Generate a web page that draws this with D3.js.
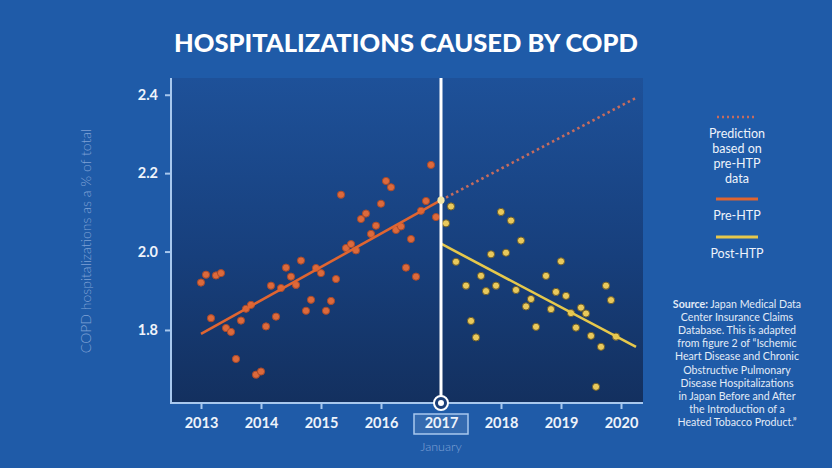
<!DOCTYPE html>
<html>
<head>
<meta charset="utf-8">
<script src="https://cdn.jsdelivr.net/npm/d3@7"></script>
<style>
  html, body { margin: 0; padding: 0; background: #1f5ba8; }
  svg { display: block; }
</style>
</head>
<body>
<svg id="chart" width="832" height="468"></svg>
<script>
// ---------- DATA ----------
const title = "HOSPITALIZATIONS CAUSED BY COPD";
const yAxisLabel = "COPD hospitalizations as a % of total";
const xTickYears = [2013, 2014, 2015, 2016, 2017, 2018, 2019, 2020];
const yTickValues = [1.8, 2.0, 2.2, 2.4];
const interventionYear = 2017;
const interventionLabel = "January";

// Monthly values, Jan 2013 .. Dec 2016
const preStartYear = 2013;
const preValues = [
  1.921, 1.941, 1.830, 1.939, 1.945, 1.805, 1.795, 1.726, 1.824, 1.854, 1.864, 1.686,
  1.694, 1.809, 1.913, 1.834, 1.907, 1.959, 1.936, 1.915, 1.977, 1.849, 1.877, 1.958,
  1.945, 1.849, 1.874, 1.930, 2.145, 2.009, 2.019, 2.003, 2.083, 2.097, 2.045, 2.066,
  2.122, 2.180, 2.164, 2.055, 2.064, 1.959, 2.032, 1.936, 2.104, 2.129, 2.221, 2.088
];
// Monthly values, Feb 2017 .. Dec 2019 (null = not visible)
const postStartYear = 2017 + 1 / 12;
const postValues = [
  2.072, 2.115, 1.974, null, 1.913, 1.823, 1.781, 1.938, 1.899, 1.993, 1.913,
  2.101, 1.997, 2.079, 1.902, 2.028, 1.860, 1.879, 1.808, null, 1.938, 1.853, 1.897,
  1.975, 1.887, 1.843, 1.806, 1.857, 1.842, 1.785, 1.655, 1.757, 1.913, 1.876, 1.783
];
// Trend lines [year, value]
const preTrend = [[2013, 1.790], [2017, 2.131]];
const predictionTrend = [[2017, 2.131], [2020.25, 2.392]];
const postTrend = [[2017, 2.020], [2020.25, 1.757]];

const legendItems = [
  { key: "prediction", lines: ["Prediction", "based on", "pre-HTP", "data"] },
  { key: "pre", lines: ["Pre-HTP"] },
  { key: "post", lines: ["Post-HTP"] }
];
const sourceLines = [
  ["Source:", " Japan Medical Data"],
  ["", "Center Insurance Claims"],
  ["", "Database. This is adapted"],
  ["", "from figure 2 of \u201cIschemic"],
  ["", "Heart Disease and Chronic"],
  ["", "Obstructive Pulmonary"],
  ["", "Disease Hospitalizations"],
  ["", "in Japan Before and After"],
  ["", "the Introduction of a"],
  ["", "Heated Tobacco Product.\u201d"]
];

// ---------- STYLE ----------
const C = {
  bg: "#1f5ba8",
  axis: "#a8c8ee",
  text: "#eef3fb",
  pre: "#df6531",
  preDot: "#dc6a3c",
  post: "#e6c84c",
  postDot: "#e9c95c",
  pred: "#c66c5e",
  faint: "#7fa2d6"
};
const FONT = "Lato, 'Open Sans', sans-serif";

const svg = d3.select("#chart");
const W = 832, H = 468;
const plot = { left: 171, right: 643, top: 78, bottom: 403 };

svg.append("rect").attr("width", W).attr("height", H).attr("fill", C.bg);

const defs = svg.append("defs");
const grad = defs.append("linearGradient").attr("id", "plotGrad")
  .attr("x1", 0).attr("y1", 0).attr("x2", 0).attr("y2", 1);
grad.append("stop").attr("offset", "0%").attr("stop-color", "#1e5199");
grad.append("stop").attr("offset", "55%").attr("stop-color", "#173f7c");
grad.append("stop").attr("offset", "100%").attr("stop-color", "#13305f");

// scales
const x = d3.scaleLinear().domain([2012.5, 2020.3667]).range([plot.left, plot.right]);
const y = d3.scaleLinear().domain([1.6137, 2.4427]).range([plot.bottom, plot.top]);

// plot background
svg.append("rect")
  .attr("x", plot.left).attr("y", plot.top)
  .attr("width", plot.right - plot.left).attr("height", plot.bottom - plot.top)
  .attr("fill", "url(#plotGrad)");

// title
svg.append("text")
  .attr("x", 406).attr("y", 52)
  .attr("text-anchor", "middle")
  .attr("font-family", FONT).attr("font-weight", 900).attr("font-size", 25.5)
  .attr("fill", "#ffffff")
  .text(title);

// y axis label
svg.append("text")
  .attr("transform", "translate(91,241) rotate(-90)")
  .attr("text-anchor", "middle")
  .attr("font-family", FONT).attr("font-weight", 300).attr("font-size", 14)
  .attr("fill", C.faint)
  .text(yAxisLabel);

// axes
const yAxis = d3.axisLeft(y).tickValues(yTickValues).tickFormat(d3.format(".1f"))
  .tickSize(6).tickPadding(7);
const gy = svg.append("g").attr("transform", `translate(${plot.left},0)`).call(yAxis);
gy.select(".domain").remove();
gy.selectAll(".tick line").attr("stroke", C.axis).attr("stroke-width", 2);
gy.selectAll(".tick text").attr("fill", C.text).attr("font-family", FONT)
  .attr("font-weight", 700).attr("font-size", 14.5);

const xAxis = d3.axisBottom(x).tickValues(xTickYears).tickFormat(d3.format("d"))
  .tickSize(6).tickPadding(9);
const gx = svg.append("g").attr("transform", `translate(0,${plot.bottom})`).call(xAxis);
gx.select(".domain").remove();
gx.selectAll(".tick line").attr("stroke", C.axis).attr("stroke-width", 2);
gx.selectAll(".tick text").attr("fill", C.text).attr("font-family", FONT)
  .attr("font-weight", 700).attr("font-size", 14.5);

// axis lines
svg.append("line").attr("x1", plot.left).attr("x2", plot.left)
  .attr("y1", plot.top).attr("y2", plot.bottom + 1)
  .attr("stroke", C.axis).attr("stroke-width", 2);
svg.append("line").attr("x1", plot.left).attr("x2", plot.right)
  .attr("y1", plot.bottom).attr("y2", plot.bottom)
  .attr("stroke", C.axis).attr("stroke-width", 2);

// 2017 highlight box + January
const xi = x(interventionYear);
svg.insert("rect", "g")
  .attr("x", xi - 27).attr("y", 414).attr("width", 54).attr("height", 20)
  .attr("fill", "rgba(255,255,255,0.10)")
  .attr("stroke", C.axis).attr("stroke-width", 1.5);
svg.append("text")
  .attr("x", xi).attr("y", 451).attr("text-anchor", "middle")
  .attr("font-family", FONT).attr("font-weight", 300).attr("font-size", 12.5)
  .attr("fill", C.faint)
  .text(interventionLabel);

// data points
const prePoints = preValues.map((v, i) => ({ t: preStartYear + i / 12, v }));
const postPoints = postValues.map((v, i) => ({ t: postStartYear + i / 12, v }))
  .filter(d => d.v !== null);

const line = d3.line().x(d => x(d[0])).y(d => y(d[1]));

svg.append("g").selectAll("circle").data(prePoints).join("circle")
  .attr("cx", d => x(d.t)).attr("cy", d => y(d.v)).attr("r", 3.6)
  .attr("fill", C.preDot).attr("stroke", "#a9492a").attr("stroke-width", 1);

svg.append("g").selectAll("circle").data(postPoints).join("circle")
  .attr("cx", d => x(d.t)).attr("cy", d => y(d.v)).attr("r", 3.6)
  .attr("fill", C.postDot).attr("stroke", "#6d5d2a").attr("stroke-width", 1);

// trend lines
svg.append("path").datum(predictionTrend).attr("d", line)
  .attr("fill", "none").attr("stroke", C.pred).attr("stroke-width", 2.6)
  .attr("stroke-dasharray", "2.5,3.2");
svg.append("path").datum(preTrend).attr("d", line)
  .attr("fill", "none").attr("stroke", C.pre).attr("stroke-width", 2.6);
svg.append("path").datum(postTrend).attr("d", line)
  .attr("fill", "none").attr("stroke", C.post).attr("stroke-width", 2.6);

// intervention line
svg.append("line").attr("x1", xi).attr("x2", xi)
  .attr("y1", plot.top).attr("y2", plot.bottom)
  .attr("stroke", "#ffffff").attr("stroke-width", 3);
svg.append("circle").attr("cx", xi).attr("cy", y(preTrend[1][1])).attr("r", 3.6)
  .attr("fill", "#f3e6a8");
svg.append("circle").attr("cx", xi).attr("cy", plot.bottom).attr("r", 7)
  .attr("fill", "#1b3f78").attr("stroke", "#ffffff").attr("stroke-width", 2);
svg.append("circle").attr("cx", xi).attr("cy", plot.bottom).attr("r", 3)
  .attr("fill", "#ffffff");

// legend
const lg = svg.append("g").attr("font-family", FONT).attr("font-size", 12.5)
  .attr("fill", C.text).attr("text-anchor", "middle");
const lx = 737;
lg.append("line").attr("x1", lx - 20).attr("x2", lx + 20).attr("y1", 117).attr("y2", 117)
  .attr("stroke", C.pred).attr("stroke-width", 2.5).attr("stroke-dasharray", "2,3");
legendItems[0].lines.forEach((s, i) => lg.append("text").attr("x", lx).attr("y", 137.5 + i * 15).text(s));
lg.append("line").attr("x1", lx - 21).attr("x2", lx + 21).attr("y1", 199).attr("y2", 199)
  .attr("stroke", C.pre).attr("stroke-width", 3);
lg.append("text").attr("x", lx).attr("y", 219.5).text(legendItems[1].lines[0]);
lg.append("line").attr("x1", lx - 21).attr("x2", lx + 21).attr("y1", 237).attr("y2", 237)
  .attr("stroke", C.post).attr("stroke-width", 3);
lg.append("text").attr("x", lx).attr("y", 257.5).text(legendItems[2].lines[0]);

// source
const sg = svg.append("g").attr("font-family", FONT).attr("font-size", 10.6)
  .attr("fill", "#e3ebf7").attr("text-anchor", "middle");
sourceLines.forEach((pair, i) => {
  const t = sg.append("text").attr("x", 737).attr("y", 308 + i * 13.1);
  if (pair[0]) t.append("tspan").attr("font-weight", 700).text(pair[0]);
  t.append("tspan").text(pair[1]);
});
</script>
</body>
</html>
